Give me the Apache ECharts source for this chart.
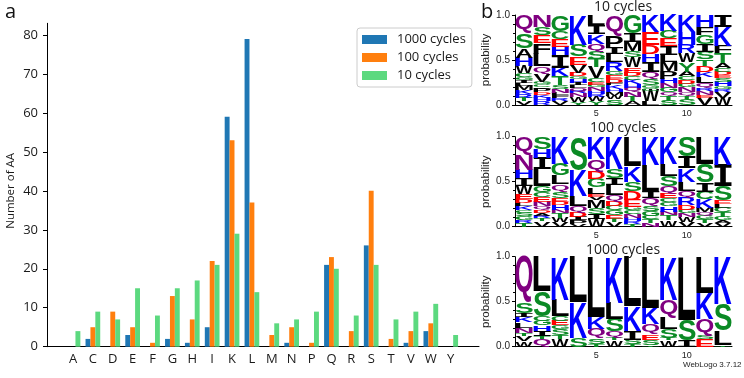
<!DOCTYPE html>
<html>
<head>
<meta charset="utf-8">
<script src="https://cdn.jsdelivr.net/npm/echarts@6/dist/echarts.min.js"></script>
<style>
  html, body { margin: 0; padding: 0; background: #fff; }
  #main { width: 744px; height: 378px; }
</style>
</head>
<body>
<div id="main"></div>
<script>
// panel a: number of each amino acid
const aminoAcids = ['A', 'C', 'D', 'E', 'F', 'G', 'H', 'I', 'K', 'L', 'M', 'N', 'P', 'Q', 'R', 'S', 'T', 'V', 'W', 'Y'];
const cycles1000 = [0, 2, 0, 3, 0, 2, 1, 5, 59, 79, 0, 1, 0, 21, 0, 26, 0, 1, 4, 0];
const cycles100 = [0, 5, 9, 5, 1, 13, 7, 22, 53, 37, 3, 5, 1, 23, 4, 40, 2, 4, 6, 0];
const cycles10 = [4, 9, 7, 15, 8, 15, 17, 21, 29, 14, 6, 7, 9, 20, 8, 21, 7, 9, 11, 3];
const seriesNames = ['1000 cycles', '100 cycles', '10 cycles'];

// panel b: sequence logos, each column listed top to bottom [letter, probability]
const logoPositions = ['1', '2', '3', '4', '5', '6', '7', '8', '9', '10', '11', '12'];
const logo10 = [
  [['Q', .20], ['S', .16], ['A', .10], ['H', .09], ['W', .08], ['C', .04], ['G', .03], ['I', .03], ['L', .03], ['M', .05], ['K', .04], ['R', .04], ['T', .04], ['V', .04]],
  [['N', .13], ['S', .09], ['E', .09], ['F', .12], ['L', .14], ['Q', .08], ['V', .09], ['G', .03], ['C', .03], ['I', .02], ['P', .04], ['D', .03], ['K', .03], ['H', .04], ['R', .04]],
  [['G', .17], ['C', .08], ['E', .08], ['H', .09], ['I', .13], ['K', .09], ['T', .09], ['S', .04], ['N', .04], ['L', .03], ['F', .03], ['R', .03], ['V', .04]],
  [['K', .33], ['S', .13], ['E', .09], ['V', .09], ['D', .04], ['G', .03], ['H', .04], ['I', .03], ['L', .03], ['Q', .04], ['R', .02], ['N', .04], ['W', .06], ['Y', .03]],
  [['L', .11], ['I', .10], ['K', .10], ['Q', .08], ['S', .08], ['T', .09], ['V', .12], ['C', .04], ['E', .03], ['G', .03], ['N', .04], ['H', .03], ['R', .03], ['W', .05], ['Y', .04]],
  [['Q', .22], ['P', .13], ['I', .07], ['L', .08], ['R', .10], ['G', .04], ['E', .04], ['D', .04], ['F', .03], ['K', .04], ['H', .03], ['M', .04], ['W', .04], ['S', .06]],
  [['G', .20], ['I', .10], ['M', .10], ['S', .07], ['W', .11], ['E', .06], ['D', .04], ['C', .04], ['K', .05], ['H', .04], ['Q', .05], ['N', .05], ['T', .05], ['A', .04]],
  [['K', .19], ['E', .14], ['D', .10], ['H', .09], ['I', .11], ['Q', .08], ['S', .07], ['G', .03], ['C', .03], ['W', .12], ['L', .04]],
  [['K', .18], ['C', .08], ['E', .08], ['I', .10], ['L', .08], ['M', .10], ['P', .09], ['H', .05], ['N', .05], ['G', .05], ['Q', .04], ['T', .05], ['S', .05]],
  [['K', .18], ['H', .14], ['R', .09], ['W', .10], ['Y', .10], ['A', .05], ['C', .04], ['D', .04], ['G', .04], ['N', .05], ['Q', .04], ['T', .03], ['S', .07]],
  [['H', .13], ['F', .08], ['G', .10], ['I', .08], ['S', .08], ['T', .07], ['D', .07], ['K', .05], ['L', .07], ['Q', .05], ['R', .03], ['N', .04], ['E', .03], ['V', .08]],
  [['I', .13], ['K', .21], ['F', .08], ['T', .11], ['A', .06], ['C', .04], ['D', .04], ['E', .03], ['S', .04], ['H', .05], ['G', .03], ['R', .03], ['V', .07], ['W', .08]]
];
const logo100 = [
  [['Q', .20], ['N', .16], ['H', .09], ['I', .08], ['W', .09], ['E', .05], ['D', .04], ['L', .04], ['K', .04], ['C', .03], ['S', .04], ['G', .04], ['R', .03], ['T', .04]],
  [['S', .13], ['H', .10], ['I', .12], ['L', .18], ['G', .07], ['C', .05], ['E', .05], ['N', .05], ['Q', .04], ['D', .03], ['A', .03], ['R', .03], ['T', .03], ['V', .06]],
  [['K', .30], ['G', .13], ['L', .10], ['Q', .08], ['S', .07], ['E', .04], ['D', .04], ['H', .05], ['N', .04], ['T', .05], ['W', .05], ['V', .05]],
  [['S', .37], ['K', .29], ['L', .11], ['Q', .07], ['D', .05], ['I', .04], ['P', .04], ['V', .03]],
  [['K', .24], ['Q', .13], ['D', .08], ['G', .09], ['L', .07], ['E', .03], ['V', .04], ['M', .08], ['S', .07], ['I', .05], ['W', .08]],
  [['K', .36], ['S', .10], ['I', .07], ['L', .11], ['Q', .07], ['D', .05], ['C', .05], ['G', .05], ['E', .04], ['T', .04], ['V', .05]],
  [['L', .33], ['K', .17], ['S', .10], ['D', .10], ['E', .08], ['G', .04], ['C', .04], ['N', .04], ['H', .04], ['R', .03], ['T', .03]],
  [['K', .31], ['L', .30], ['I', .07], ['Q', .09], ['S', .06], ['G', .05], ['C', .04], ['T', .04], ['N', .04]],
  [['K', .29], ['L', .12], ['S', .11], ['Q', .08], ['E', .05], ['C', .04], ['G', .04], ['H', .06], ['N', .04], ['T', .05], ['W', .07]],
  [['S', .22], ['I', .13], ['K', .15], ['L', .10], ['Q', .08], ['R', .08], ['D', .05], ['G', .04], ['N', .04], ['W', .06], ['V', .05]],
  [['L', .30], ['S', .21], ['I', .10], ['C', .08], ['K', .10], ['M', .05], ['Q', .04], ['G', .04], ['T', .04], ['V', .04]],
  [['K', .31], ['I', .24], ['S', .16], ['E', .04], ['L', .04], ['C', .05], ['T', .05], ['G', .04], ['A', .03], ['V', .04]]
];
const logo1000 = [
  [['Q', .51], ['S', .12], ['I', .04], ['K', .06], ['L', .06], ['N', .06], ['T', .03], ['V', .06], ['W', .06]],
  [['L', .37], ['S', .27], ['C', .05], ['G', .05], ['H', .06], ['I', .06], ['T', .03], ['Q', .08]],
  [['K', .48], ['L', .18], ['C', .05], ['E', .05], ['G', .04], ['S', .07], ['T', .04], ['W', .09]],
  [['L', .50], ['K', .39], ['S', .10]],
  [['L', .67], ['K', .13], ['Q', .11], ['S', .06], ['T', .03]],
  [['K', .51], ['L', .18], ['S', .14], ['Q', .07], ['T', .03], ['W', .07]],
  [['L', .55], ['K', .27], ['I', .10], ['S', .05], ['T', .03]],
  [['L', .57], ['K', .18], ['Q', .11], ['E', .06], ['S', .06], ['T', .02]],
  [['K', .48], ['Q', .20], ['L', .12], ['S', .10], ['T', .03], ['W', .07]],
  [['L', .70], ['S', .23], ['I', .07]],
  [['L', .40], ['K', .29], ['Q', .19], ['S', .04], ['E', .08]],
  [['K', .53], ['S', .29], ['L', .16], ['T', .02]]
];

// weblogo chemistry colours
const letterColors = {};
'GSTYC'.split('').forEach(c => letterColors[c] = '#0b8a25');
'NQ'.split('').forEach(c => letterColors[c] = '#800080');
'KRH'.split('').forEach(c => letterColors[c] = '#0000ff');
'DE'.split('').forEach(c => letterColors[c] = '#ff0000');
'PAWFLIMV'.split('').forEach(c => letterColors[c] = '#000000');

const LOGO_FONT = 'bold 100px "Liberation Sans"';
const LOGO_FONT_I = 'bold 100px "DejaVu Sans Mono"';
const BAR_FONT = 'Open Sans';

// measure the ink box of a glyph so it can be stretched to fill its slot
const measureCtx = document.createElement('canvas').getContext('2d');
const glyphCache = {};
function glyphBox(ch, font) {
  const key = font + ch;
  if (!glyphCache[key]) {
    measureCtx.font = font;
    measureCtx.textBaseline = 'middle';
    measureCtx.textAlign = 'left';
    const m = measureCtx.measureText(ch);
    glyphCache[key] = {
      l: -m.actualBoundingBoxLeft, r: m.actualBoundingBoxRight,
      t: -m.actualBoundingBoxAscent, b: m.actualBoundingBoxDescent
    };
  }
  return glyphCache[key];
}

function stackLogo(columns) {
  const data = [], letters = [];
  columns.forEach((col, i) => {
    const total = col.reduce((s, d) => s + d[1], 0);
    let base = 0;
    col.slice().reverse().forEach(([ch, p]) => {
      const h = p / total;
      data.push([i, base, base + h]);
      letters.push(ch);
      base += h;
    });
  });
  return { data, letters };
}

function logoRenderer(letters) {
  return function (params, api) {
    const ch = letters[params.dataIndex];
    const bottom = api.coord([api.value(0), api.value(1)]);
    const top = api.coord([api.value(0), api.value(2)]);
    const bw = api.size([1, 0])[0] * 0.95;
    const h = bottom[1] - top[1];
    const font = ch === 'I' ? LOGO_FONT_I : LOGO_FONT;
    const g = glyphBox(ch, font);
    const sx = bw / (g.r - g.l);
    const sy = h / (g.b - g.t);
    return {
      type: 'text',
      x: bottom[0] - bw / 2 - g.l * sx,
      y: top[1] - g.t * sy,
      scaleX: sx,
      scaleY: sy,
      silent: true,
      style: {
        text: ch, x: 0, y: 0, font: font, fill: letterColors[ch],
        align: 'left', verticalAlign: 'middle',
        textAlign: 'left', textVerticalAlign: 'middle'
      }
    };
  };
}

const logos = [stackLogo(logo10), stackLogo(logo100), stackLogo(logo1000)];
const logoTops = [15, 136.7, 256.7];
const logoTitles = ['10 cycles', '100 cycles', '1000 cycles'];
const logoTitleTops = [0, 121, 243];

const chart = echarts.init(document.getElementById('main'));

const grids = [
  { left: 47, top: 23.3, width: 432, height: 323.4 },
  { left: 63.06, top: 35, width: 397.6, height: 311.7 }
];
logoTops.forEach(t => grids.push({ left: 515, top: t, width: 217, height: 90 }));
grids.forEach(g => { g.outerBoundsMode = 'none'; });

const xAxes = [
  {
    gridIndex: 0, type: 'value', min: 0, max: 1,
    axisLine: { lineStyle: { color: '#000', width: 1 } },
    axisTick: { show: false }, axisLabel: { show: false }, splitLine: { show: false }
  },
  {
    gridIndex: 1, type: 'category', data: aminoAcids,
    axisLine: { show: false },
    axisTick: { alignWithLabel: true, length: 4, lineStyle: { color: '#000' } },
    axisLabel: { margin: 6, fontSize: 13, color: '#1a1a1a', fontFamily: BAR_FONT }
  }
];
const yAxes = [
  {
    gridIndex: 0, type: 'value', min: 0, max: 1,
    axisLine: { show: true, lineStyle: { color: '#000', width: 1 } },
    axisTick: { show: false }, axisLabel: { show: false }, splitLine: { show: false }
  },
  {
    gridIndex: 1, type: 'value', min: 0, max: 80, interval: 10, offset: 16.06,
    axisLine: { show: false },
    axisTick: { show: true, length: 4, lineStyle: { color: '#000' } },
    axisLabel: { margin: 9, fontSize: 13, color: '#1a1a1a', fontFamily: BAR_FONT },
    splitLine: { show: false },
    name: 'Number of AA', nameLocation: 'middle', nameGap: 30, nameMoveOverlap: false,
    nameTextStyle: { fontSize: 11.5, color: '#1a1a1a', fontFamily: BAR_FONT }
  }
];
logos.forEach((lg, i) => {
  xAxes.push({
    gridIndex: i + 2, type: 'category', data: logoPositions,
    axisLine: { lineStyle: { color: '#000', width: 1 } },
    axisTick: { alignWithLabel: true, length: 3, lineStyle: { color: '#000' } },
    axisLabel: {
      interval: (idx) => idx === 4 || idx === 9,
      margin: 4, fontSize: 9, color: '#222', fontFamily: 'Liberation Sans'
    }
  });
  yAxes.push({
    gridIndex: i + 2, type: 'value', min: 0, max: 1, interval: 0.5,
    axisLine: { show: true, lineStyle: { color: '#000', width: 1 } },
    axisTick: { show: true, length: 3, lineStyle: { color: '#000' } },
    minorTick: { show: true, splitNumber: 5, length: 2, lineStyle: { color: '#000' } },
    axisLabel: { margin: 5, fontSize: 10, color: '#222', fontFamily: 'Liberation Sans', formatter: v => v.toFixed(1) },
    splitLine: { show: false },
    name: 'probability', nameLocation: 'middle', nameGap: 23,
    nameTextStyle: { fontSize: 11.5, color: '#222', fontFamily: 'Liberation Sans' }
  });
});

const barColors = ['#1f77b4', '#ff7f0e', '#5cd97f'];
const series = [cycles1000, cycles100, cycles10].map((vals, i) => ({
  name: seriesNames[i], type: 'bar', xAxisIndex: 1, yAxisIndex: 1,
  data: vals, barWidth: 4.9, barGap: '0%',
  itemStyle: { color: barColors[i] }, silent: true
}));
logos.forEach((lg, i) => {
  series.push({
    type: 'custom', xAxisIndex: i + 2, yAxisIndex: i + 2,
    data: lg.data, encode: { x: 0, y: [1, 2] },
    renderItem: logoRenderer(lg.letters), silent: true
  });
});

chart.setOption({
  animation: false,
  backgroundColor: '#fff',
  grid: grids,
  xAxis: xAxes,
  yAxis: yAxes,
  title: logoTitles.map((t, i) => ({
    text: t, left: 623, top: logoTitleTops[i], textAlign: 'center', padding: 0,
    textStyle: { fontSize: 14, fontWeight: 'normal', color: '#1a1a1a', fontFamily: BAR_FONT }
  })),
  legend: {
    data: seriesNames, orient: 'vertical', left: 357, top: 28,
    itemWidth: 25, itemHeight: 9, itemGap: 5, icon: 'rect',
    padding: [5, 6, 5, 5], borderColor: '#ccc', borderWidth: 1, borderRadius: 3,
    backgroundColor: '#fff', selectedMode: false,
    textStyle: { fontSize: 13, color: '#1a1a1a', fontFamily: BAR_FONT, padding: [0, 0, 0, 5] }
  },
  graphic: [
    { type: 'text', left: 5, top: 2, style: { text: 'a', font: '20px "Open Sans"', fill: '#111' } },
    { type: 'text', left: 481, top: 2, style: { text: 'b', font: '20px "Open Sans"', fill: '#111' } },
    { type: 'text', left: 683, top: 361, style: { text: 'WebLogo 3.7.12', font: '8px "Liberation Sans"', fill: '#222' } }
  ],
  series: series
});
</script>
</body>
</html>
